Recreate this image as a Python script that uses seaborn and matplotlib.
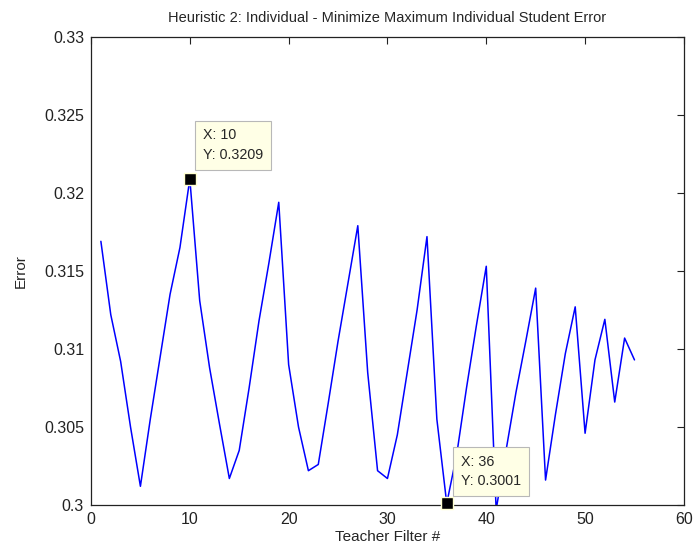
import numpy as np
import pandas as pd
import matplotlib
matplotlib.use('Agg')
import matplotlib.pyplot as plt
import seaborn as sns

sns.set_style('white')
plt.rcParams['font.family'] = ['Liberation Sans', 'DejaVu Sans']

# teacher filter index and error values
filter_no = list(range(1, 56))
error = [0.3169, 0.3122, 0.3092, 0.3050, 0.3012, 0.3055, 0.3095, 0.3135, 0.3165, 0.3209,
         0.3131, 0.3088, 0.3052, 0.3017, 0.3035, 0.3075, 0.3118, 0.3155, 0.3194, 0.3090,
         0.3050, 0.3022, 0.3026, 0.3065, 0.3105, 0.3142, 0.3179, 0.3085, 0.3022, 0.3017,
         0.3045, 0.3085, 0.3125, 0.3172, 0.3055, 0.3001, 0.3032, 0.3075, 0.3115, 0.3153,
         0.2997, 0.3035, 0.3072, 0.3105, 0.3139, 0.3016, 0.3058, 0.3097, 0.3127, 0.3046,
         0.3093, 0.3119, 0.3066, 0.3107, 0.3093]

# data tips
tip_x = [10, 36]
tip_y = [0.3209, 0.3001]
tip_offset = [(13, 17), (14, 15)]

xticks = [0, 10, 20, 30, 40, 50, 60]
yticks = [0.3, 0.305, 0.31, 0.315, 0.32, 0.325, 0.33]
ytick_labels = ['0.3', '0.305', '0.31', '0.315', '0.32', '0.325', '0.33']

df = pd.DataFrame({'Teacher Filter #': filter_no, 'Error': error})

fig = plt.figure(figsize=(7, 5.54), dpi=100)
ax = fig.add_axes([0.130, 0.0884, 0.847, 0.845])

sns.lineplot(data=df, x='Teacher Filter #', y='Error', ax=ax, color='#0000ff', linewidth=1.1)

ax.set_xlim(0, 60)
ax.set_ylim(0.3, 0.33)
ax.set_xticks(xticks)
ax.set_yticks(yticks)
ax.set_yticklabels(ytick_labels)
ax.tick_params(direction='in', length=5, width=0.8, top=True, right=True,
               labelsize=11.5, colors='#222222', pad=5)
for s in ax.spines.values():
    s.set_color('#222222')
    s.set_linewidth(0.9)

ax.set_title('Heuristic 2: Individual - Minimize Maximum Individual Student Error',
             fontsize=10.5, pad=11)

tips = pd.DataFrame({'x': tip_x, 'y': tip_y})
sns.scatterplot(data=tips, x='x', y='y', ax=ax, marker='s', s=80, color='black',
                edgecolor='#ffffd0', linewidth=1, zorder=5, clip_on=False)
ax.set_xlabel('Teacher Filter #', fontsize=11, labelpad=2)
ax.set_ylabel('Error', fontsize=11, labelpad=12)

for tx, ty, off in zip(tip_x, tip_y, tip_offset):
    ax.annotate(f'X: {tx}\nY: {ty:.4f}', xy=(tx, ty), xytext=off,
                textcoords='offset pixels', ha='left', va='bottom',
                fontsize=10.3, linespacing=1.5, zorder=6,
                bbox=dict(boxstyle='square,pad=0.55', fc='#ffffe6', ec='#b8b8b8', lw=0.8))

fig.savefig('out.png', dpi=100)
